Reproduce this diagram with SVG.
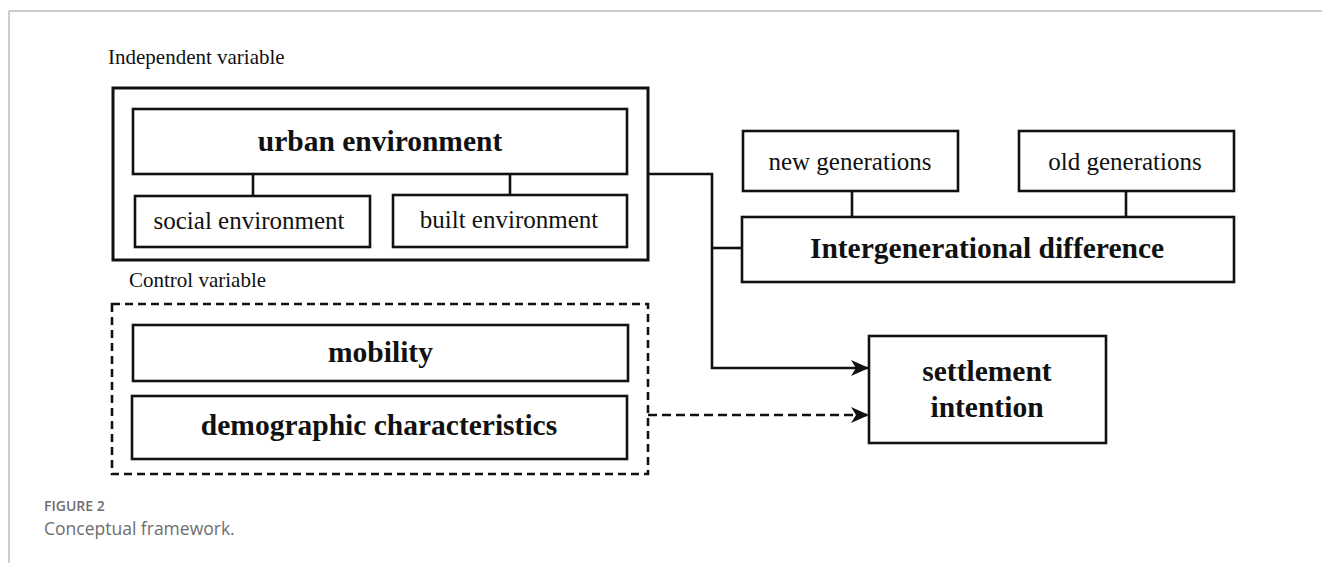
<svg xmlns="http://www.w3.org/2000/svg" width="1322" height="563" viewBox="0 0 1322 563">
  <style>
    .box { fill: #ffffff; stroke: #111111; stroke-width: 2.6; }
    .outer { fill: none; stroke: #111111; stroke-width: 3; }
    .dashbox { fill: none; stroke: #111111; stroke-width: 2.6; stroke-dasharray: 8 5; }
    .line { fill: none; stroke: #111111; stroke-width: 2.6; }
    .dline { fill: none; stroke: #111111; stroke-width: 2.6; stroke-dasharray: 9 5; }
    .label { font-family: "Liberation Serif", "Times New Roman", serif; fill: #111111; }
    .reg { font-size: 25px; text-anchor: middle; }
    .bold { font-size: 29.5px; font-weight: bold; text-anchor: middle; }
    .cap { font-size: 21px; }
    .fig { font-family: "Open Sans", "Lato", sans-serif; fill: #6e6e6e; }
  </style>
  <defs>
    <marker id="arrow" markerUnits="userSpaceOnUse" markerWidth="20" markerHeight="18" refX="18" refY="9" orient="auto">
      <path d="M0,1 L18,9 L0,17 L5,9 z" fill="#111111"/>
    </marker>
  </defs>

  <!-- page frame -->
  <g id="frame">
    <line x1="9" y1="11" x2="1322" y2="11" stroke="#bdbdbd" stroke-width="1.5"/>
    <line x1="9" y1="11" x2="9" y2="563" stroke="#bdbdbd" stroke-width="1.5"/>
  </g>

  <!-- section captions -->
  <text class="label cap" x="108" y="64">Independent variable</text>
  <text class="label cap" x="129" y="287">Control variable</text>

  <!-- group containers -->
  <g id="independent-group">
    <rect class="outer" x="113" y="88" width="535" height="172"/>
  </g>
  <g id="control-group">
    <rect class="dashbox" x="112" y="304" width="536" height="170"/>
  </g>

  <!-- connectors -->
  <g id="connectors">
    <line class="line" x1="253" y1="174" x2="253" y2="196"/>
    <line class="line" x1="510" y1="174" x2="510" y2="195"/>
    <line class="line" x1="852" y1="191" x2="852" y2="217"/>
    <line class="line" x1="1126" y1="191" x2="1126" y2="217"/>
    <polyline class="line" points="648,174 712,174 712,368 869,368" marker-end="url(#arrow)"/>
    <line class="line" x1="712" y1="248" x2="742" y2="248"/>
    <line class="dline" x1="648" y1="415" x2="869" y2="415" marker-end="url(#arrow)"/>
  </g>

  <g id="urban-environment">
    <rect class="box" x="133" y="109" width="494" height="65"/>
    <text class="label bold" x="380" y="151">urban environment</text>
  </g>
  <g id="social-environment">
    <rect class="box" x="135" y="196" width="235" height="51"/>
    <text class="label reg" x="249" y="229">social environment</text>
  </g>
  <g id="built-environment">
    <rect class="box" x="393" y="195" width="234" height="52"/>
    <text class="label reg" x="509" y="228">built environment</text>
  </g>

  <g id="new-generations">
    <rect class="box" x="743" y="131" width="215" height="60"/>
    <text class="label reg" x="850" y="170">new generations</text>
  </g>
  <g id="old-generations">
    <rect class="box" x="1019" y="131" width="215" height="60"/>
    <text class="label reg" x="1125" y="170">old generations</text>
  </g>
  <g id="intergenerational-difference">
    <rect class="box" x="742" y="217" width="492" height="65"/>
    <text class="label bold" x="987" y="258">Intergenerational difference</text>
  </g>

  <g id="mobility">
    <rect class="box" x="133" y="325" width="495" height="56"/>
    <text class="label bold" x="380.5" y="362">mobility</text>
  </g>
  <g id="demographic-characteristics">
    <rect class="box" x="132" y="396" width="495" height="63"/>
    <text class="label bold" x="379" y="435">demographic characteristics</text>
  </g>

  <g id="settlement-intention">
    <rect class="box" x="869" y="336" width="237" height="107"/>
    <text class="label bold" x="987" y="381">settlement</text>
    <text class="label bold" x="987" y="417">intention</text>
  </g>

  <g id="caption">
    <text class="fig" x="44" y="511" font-size="14" font-weight="600">FIGURE 2</text>
    <text class="fig" x="44" y="535" font-size="17.5">Conceptual framework.</text>
  </g>
</svg>
